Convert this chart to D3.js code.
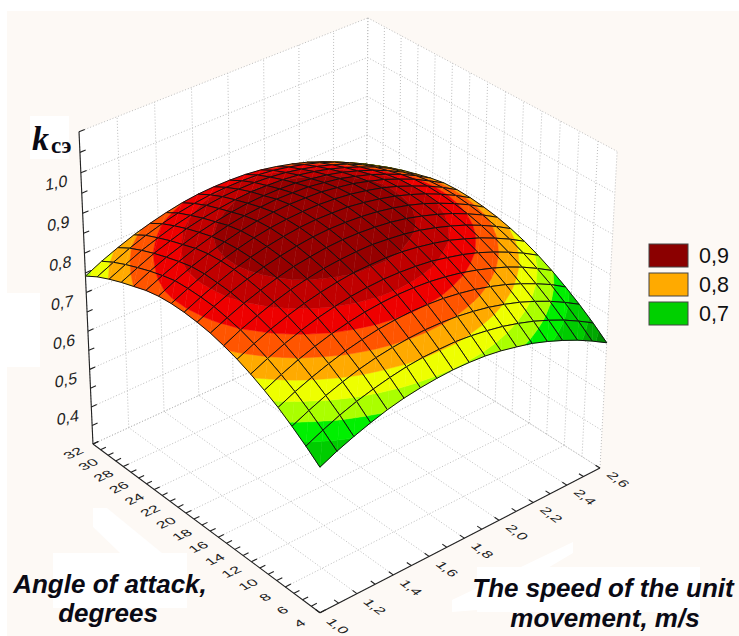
<!DOCTYPE html>
<html>
<head>
<meta charset="utf-8" />
<title>k surface</title>
<script src="https://cdn.jsdelivr.net/npm/d3@7"></script>
<style>
body { margin: 0; padding: 0; background: #fff; }
text { font-family: "Liberation Sans", Arial, sans-serif; }
</style>
</head>
<body>
<div id="chart"></div>
<script>
var speedTicks = [1.0, 1.2, 1.4, 1.6, 1.8, 2.0, 2.2, 2.4, 2.6];
var angleTicks = [4, 6, 8, 10, 12, 14, 16, 18, 20, 22, 24, 26, 28, 30, 32];
var kTicks = [0.4, 0.5, 0.6, 0.7, 0.8, 0.9, 1.0];
var kLines = [0.3, 0.4, 0.5, 0.6, 0.7, 0.8, 0.9, 1.0, 1.1];
var bandLevels = [0.605, 0.625, 0.645, 0.665, 0.7, 0.725, 0.75, 0.775, 0.8, 0.825, 0.85, 0.875];
var bandColors = ["#005c00", "#007000", "#008c00", "#00a800", "#00cc00", "#00f000", "#aaff00", "#eeff00", "#ffaa00", "#ff5500", "#ee0000", "#c00000", "#960000"];
var legendLabels = ["0,9", "0,8", "0,7"];
var legendColors = ["#8b0000", "#ffaa00", "#00d000"];

// k: one row per angle step (4 to 32), one column per speed step (1.0 to 2.6)
var kSurface = [
    [.667,.686,.702,.716,.728,.737,.743,.747,.749,.748,.745,.739,.730,.720,.706,.690,.672,.651,.628],
    [.695,.714,.731,.745,.756,.765,.772,.776,.777,.777,.773,.767,.759,.748,.735,.719,.701,.680,.657],
    [.720,.739,.756,.770,.782,.791,.797,.801,.803,.802,.799,.793,.785,.774,.761,.745,.727,.706,.683],
    [.743,.762,.778,.792,.804,.813,.820,.824,.826,.825,.822,.816,.808,.797,.784,.768,.750,.730,.706],
    [.762,.781,.798,.812,.824,.833,.840,.844,.846,.845,.842,.836,.828,.817,.804,.789,.771,.750,.727],
    [.779,.798,.815,.829,.841,.850,.857,.861,.863,.862,.859,.854,.845,.835,.822,.806,.788,.768,.745],
    [.793,.812,.829,.843,.855,.864,.871,.876,.877,.877,.874,.868,.860,.850,.836,.821,.803,.783,.760],
    [.804,.824,.840,.855,.867,.876,.883,.887,.889,.889,.885,.880,.872,.861,.848,.833,.815,.795,.772],
    [.813,.832,.849,.863,.875,.885,.891,.896,.898,.897,.894,.889,.881,.870,.857,.842,.824,.804,.781],
    [.818,.838,.855,.869,.881,.890,.897,.902,.904,.903,.900,.895,.887,.877,.864,.848,.830,.810,.787],
    [.821,.840,.857,.872,.884,.893,.900,.905,.907,.906,.904,.898,.890,.880,.867,.852,.834,.814,.791],
    [.821,.840,.858,.872,.884,.894,.901,.905,.907,.907,.904,.899,.891,.881,.868,.852,.835,.815,.792],
    [.818,.838,.855,.869,.881,.891,.898,.903,.905,.904,.902,.896,.889,.878,.866,.850,.833,.812,.790],
    [.811,.830,.847,.862,.874,.884,.891,.895,.898,.897,.895,.889,.882,.871,.859,.843,.826,.806,.783],
    [.800,.820,.837,.851,.864,.873,.880,.885,.887,.887,.885,.879,.872,.862,.849,.834,.816,.796,.773],
    [.789,.808,.826,.840,.853,.862,.869,.874,.877,.876,.874,.869,.861,.851,.838,.823,.806,.786,.763],
    [.776,.795,.813,.827,.840,.849,.857,.862,.864,.864,.861,.856,.848,.838,.826,.811,.793,.773,.751],
    [.761,.780,.798,.813,.825,.835,.842,.847,.849,.849,.847,.842,.834,.824,.812,.797,.779,.759,.737],
    [.742,.762,.779,.794,.806,.816,.824,.829,.831,.831,.829,.824,.816,.806,.794,.779,.761,.741,.719]
];

var width = 739, height = 636;
var svg = d3.select("#chart").append("svg").attr("width", width).attr("height", height).style("display", "block");

var uScale = d3.scaleLinear().domain([1.0, 2.6]).range([0, 1]);
var vScale = d3.scaleLinear().domain([4, 32]).range([0, 1]);
var wScale = d3.scaleLinear().domain([0.3, 1.1]).range([0, 1]);
var speedAt = d3.scaleLinear().domain([0, 18]).range([1.0, 2.6]);
var angleAt = d3.scaleLinear().domain([0, 18]).range([4, 32]);

// perspective camera fitted to the box corners
function project(u, v, w) {
    var d = 1 + 0.0634 * u + 0.0821 * v - 0.062 * w;
    return [(320 + 318 * u - 219.4 * v - 20 * w) / d, (612.7 - 115 * u - 132.2 * v - 346.1 * w) / d];
}
function pt(speed, angle, k) {
    return project(uScale(speed), vScale(angle), wScale(k));
}
var line = d3.line();

// background with the scan patches
svg.append("rect").attr("width", width).attr("height", height).attr("fill", "#fff");
svg.append("rect").attr("x", 7).attr("y", 11).attr("width", width - 7).attr("height", height - 11).attr("fill", "#fdf9f5");
var patches = [
    [[30, 116], [69, 116], [69, 159], [30, 159]],
    [[7, 293], [40, 293], [40, 367], [7, 367]],
    [[53, 553], [187, 553], [187, 608], [53, 608]],
    [[93, 508], [107, 508], [162, 553], [120, 553], [93, 527]],
    [[477, 567], [700, 567], [700, 612], [477, 612]],
    [[452, 600], [573, 542], [573, 553], [477, 610], [452, 612]]
];
svg.selectAll(".patch").data(patches).enter().append("path").attr("d", function (d) { return line(d) + "Z"; }).attr("fill", "#fff");

// box
var box = [pt(1.0, 32, 1.1), pt(2.6, 32, 1.1), pt(2.6, 4, 1.1), pt(2.6, 4, 0.3), pt(1.0, 4, 0.3), pt(1.0, 32, 0.3)];
svg.append("path").attr("d", line(box) + "Z").attr("fill", "#fff");

var gridLines = [];
speedTicks.forEach(function (s) {
    gridLines.push([pt(s, 32, 0.3), pt(s, 32, 1.1)]);
    gridLines.push([pt(s, 4, 0.3), pt(s, 32, 0.3)]);
});
angleTicks.forEach(function (a) {
    gridLines.push([pt(2.6, a, 0.3), pt(2.6, a, 1.1)]);
    if ((a - 4) % 4 == 0) gridLines.push([pt(1.0, a, 0.3), pt(2.6, a, 0.3)]);
});
kLines.forEach(function (k) {
    gridLines.push([pt(1.0, 32, k), pt(2.6, 32, k)]);
    gridLines.push([pt(2.6, 32, k), pt(2.6, 4, k)]);
});
svg.append("g").selectAll("path").data(gridLines).enter().append("path")
    .attr("d", line).attr("fill", "none").attr("stroke", "#bdbdbd").attr("stroke-width", 1).attr("stroke-dasharray", "1,2");

// axes
var axisLines = [
    [pt(1.0, 32, 1.1), pt(1.0, 32, 0.3)],
    [pt(1.0, 32, 0.3), pt(1.0, 4, 0.3)],
    [pt(1.0, 4, 0.3), pt(2.6, 4, 0.3)]
];
var minor = [];
d3.range(0, 16).forEach(function (n) { minor.push(0.3 + n * 0.05); });
minor.push(1.1);
minor.forEach(function (k) { axisLines.push([pt(1.0, 32, k), pt(1.03, 32, k)]); });
d3.range(4, 33).forEach(function (a) { axisLines.push([pt(1.0, a, 0.3), pt(1.03, a, 0.3)]); });
d3.range(0, 17).forEach(function (n) { var s = 1 + n * 0.1; axisLines.push([pt(s, 4, 0.3), pt(s, 4.5, 0.3)]); });
svg.append("g").selectAll("path").data(axisLines).enter().append("path")
    .attr("d", line).attr("fill", "none").attr("stroke", "#222").attr("stroke-width", 1.1);

// axis labels lie in the plane of the floor
var tickFont = 15.5;
svg.append("g").selectAll("text").data(angleTicks).enter().append("text")
    .attr("transform", function (d) {
        var p = project(-0.068, vScale(d), 0);
        return "matrix(0.95,-0.42,0.6,0.5," + p[0] + "," + p[1] + ")";
    })
    .attr("text-anchor", "middle").attr("dy", "0.35em").attr("font-size", tickFont).attr("fill", "#222")
    .text(function (d) { return d; });
svg.append("g").selectAll("text").data(speedTicks).enter().append("text")
    .attr("transform", function (d) {
        var p = project(uScale(d), -0.072, 0);
        return "matrix(0.8,0.6,-0.7,0.4," + p[0] + "," + p[1] + ")";
    })
    .attr("text-anchor", "middle").attr("dy", "0.35em").attr("font-size", tickFont).attr("fill", "#222")
    .text(function (d) { return d.toFixed(1).replace(".", ","); });
svg.append("g").selectAll("text").data(kTicks).enter().append("text")
    .attr("transform", function (d) {
        var p = project(-0.08, 1, wScale(d));
        return "matrix(0.97,-0.2,-0.06,1," + p[0] + "," + p[1] + ")";
    })
    .attr("text-anchor", "middle").attr("dy", "0.35em").attr("font-size", 16.5).attr("fill", "#222")
    .text(function (d) { return d.toFixed(1).replace(".", ","); });

// surface, back to front
var bandEdges = [-Infinity].concat(bandLevels, [Infinity]);

function clipTriangle(tri, lo, hi) {
    function clip(poly, limit, keepAbove) {
        var out = [];
        poly.forEach(function (p, n) {
            var q = poly[(n + 1) % poly.length];
            var pIn = keepAbove ? p[2] >= limit : p[2] <= limit;
            var qIn = keepAbove ? q[2] >= limit : q[2] <= limit;
            if (pIn) out.push(p);
            if (pIn != qIn) {
                var t = (limit - p[2]) / (q[2] - p[2]);
                out.push([p[0] + t * (q[0] - p[0]), p[1] + t * (q[1] - p[1]), limit]);
            }
        });
        return out;
    }
    var res = tri;
    if (lo > -Infinity) res = clip(res, lo, true);
    if (res.length && hi < Infinity) res = clip(res, hi, false);
    return res;
}

var cells = [];
d3.range(18).forEach(function (j) {
    d3.range(18).forEach(function (i) { cells.push([i, j]); });
});
cells.sort(function (a, b) { return (b[0] + b[1]) - (a[0] + a[1]); });

var surface = svg.append("g");
cells.forEach(function (c) {
    var i = c[0], j = c[1];
    var corners = [[i, j], [i + 1, j], [i + 1, j + 1], [i, j + 1]].map(function (g) {
        return [speedAt(g[0]), angleAt(g[1]), kSurface[g[1]][g[0]]];
    });
    var tris = [[corners[0], corners[1], corners[2]], [corners[0], corners[2], corners[3]]];
    var g = surface.append("g");
    tris.forEach(function (tri) {
        bandColors.forEach(function (col, b) {
            var poly = clipTriangle(tri, bandEdges[b], bandEdges[b + 1]);
            if (poly.length < 3) return;
            var pts = poly.map(function (p) { return pt(p[0], p[1], p[2]); });
            g.append("path").attr("d", line(pts) + "Z").attr("fill", col).attr("stroke", col).attr("stroke-width", 0.5);
        });
    });
    var outline = corners.map(function (p) { return pt(p[0], p[1], p[2]); });
    g.append("path").attr("d", line(outline) + "Z").attr("fill", "none").attr("stroke", "#111").attr("stroke-width", 1);
});

// legend
var legend = svg.append("g").selectAll("g").data(legendLabels).enter().append("g");
var legendY = d3.scalePoint().domain(legendLabels).range([244, 302]);
legend.append("rect").attr("x", 649).attr("y", function (d) { return legendY(d); }).attr("width", 39).attr("height", 23)
    .attr("fill", function (d, i) { return legendColors[i]; }).attr("stroke", "#444").attr("stroke-width", 1);
legend.append("text").attr("x", 699).attr("y", function (d) { return legendY(d) + 19; }).attr("font-size", 21.5).attr("fill", "#111")
    .text(function (d) { return d; });

// titles
function title(str, x, y) {
    svg.append("text").attr("x", x).attr("y", y).attr("text-anchor", "middle").attr("font-size", 26)
        .attr("font-weight", "bold").attr("font-style", "italic").attr("fill", "#0a0a14").text(str);
}
title("Angle of attack,", 110, 593);
title("degrees", 108, 622);
title("The speed of the unit", 603, 597);
title("movement, m/s", 605, 627);

svg.append("text").attr("x", 32).attr("y", 150).attr("font-size", 34).attr("font-weight", "bold").attr("font-style", "italic")
    .style("font-family", "'Liberation Serif', serif").attr("fill", "#0a0a14").text("k");
svg.append("text").attr("x", 51).attr("y", 153).attr("font-size", 23).attr("font-weight", "bold")
    .style("font-family", "'Liberation Serif', serif").attr("fill", "#0a0a14").text("сэ");
</script>
</body>
</html>
